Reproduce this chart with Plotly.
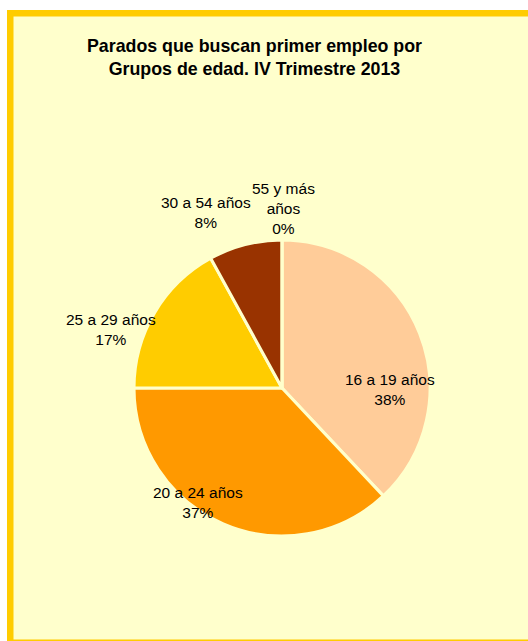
import plotly.graph_objects as go

# ---- data ----
labels = ["16 a 19 años", "20 a 24 años", "25 a 29 años", "30 a 54 años", "55 y más<br>años"]
values = [38, 37, 17, 8, 0]
colors = ["#FFCC99", "#FF9900", "#FFCC00", "#993300", "#CC6600"]
title_text = "<b>Parados que buscan primer empleo por<br>Grupos de edad. IV Trimestre 2013</b>"

# label centre positions in window pixels (layout only)
label_pos = [(390, 389), (198, 502), (111, 329), (206, 212), (283, 208)]

W, H = 528, 641
BG = "#FFFFCC"
GOLD = "#FFCC00"
FONT = "Liberation Sans, Arial, sans-serif"


def px(x):
    return x / W


def py(y):
    return 1 - y / H


cx, cy, r = 282, 388, 148

fig = go.Figure(go.Pie(
    labels=labels,
    values=values,
    sort=False,
    direction="clockwise",
    rotation=0,
    marker=dict(colors=colors, line=dict(color=BG, width=3)),
    textinfo="none",
    hoverinfo="label+percent",
    showlegend=False,
    domain=dict(x=[px(cx - r), px(cx + r)], y=[py(cy + r), py(cy - r)]),
))

total = sum(values)
annotations = []
for lab, v, (x, y) in zip(labels, values, label_pos):
    pct = round(v / total * 100) if total else 0
    annotations.append(dict(
        x=px(x), y=py(y), xref="paper", yref="paper",
        text=f"{lab}<br>{pct}%", showarrow=False,
        xanchor="center", yanchor="middle",
        font=dict(family=FONT, size=15.5, color="#000000"),
    ))

annotations.append(dict(
    x=px(254), y=py(58), xref="paper", yref="paper",
    text=title_text, showarrow=False, xanchor="center", yanchor="middle",
    font=dict(family=FONT, size=17.8, color="#000000"),
))

shapes = [
    # white strips outside the frame
    dict(type="rect", xref="paper", yref="paper", x0=0, x1=px(7), y0=0, y1=1,
         fillcolor="#FFFFFF", line=dict(width=0)),
    dict(type="rect", xref="paper", yref="paper", x0=0, x1=1, y0=py(10), y1=1,
         fillcolor="#FFFFFF", line=dict(width=0)),
    # gold frame
    dict(type="rect", xref="paper", yref="paper", x0=px(7), x1=px(13.5), y0=0, y1=py(10),
         fillcolor=GOLD, line=dict(width=0)),
    dict(type="rect", xref="paper", yref="paper", x0=px(7), x1=1, y0=py(16.5), y1=py(10),
         fillcolor=GOLD, line=dict(width=0)),
    dict(type="rect", xref="paper", yref="paper", x0=px(7), x1=1, y0=0, y1=py(639.5),
         fillcolor=GOLD, line=dict(width=0)),
]

fig.update_layout(
    width=W, height=H,
    margin=dict(l=0, r=0, t=0, b=0),
    paper_bgcolor=BG,
    plot_bgcolor=BG,
    font=dict(family=FONT),
    annotations=annotations,
    shapes=shapes,
)

fig.write_html(
    "out.html",
    config={"displayModeBar": False},
    post_script="document.body.style.margin='0';document.body.style.overflow='hidden';",
)
